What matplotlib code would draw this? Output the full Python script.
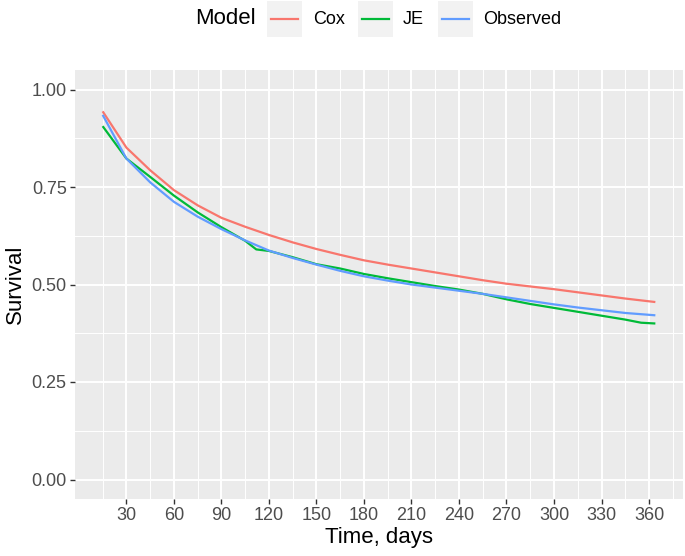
import matplotlib
matplotlib.use("Agg")
import matplotlib.pyplot as plt
from matplotlib.patches import Rectangle
from matplotlib.lines import Line2D
import numpy as np

plt.rcParams['font.family'] = ['Liberation Sans Narrow', 'Liberation Sans', 'DejaVu Sans']

# ---- data ----
days = [15, 30, 45, 60, 75, 90, 105, 120, 135, 150, 165, 180, 195, 210,
        225, 240, 255, 270, 285, 300, 315, 330, 345, 364]
cox = [0.944, 0.851, 0.793, 0.742, 0.703, 0.671, 0.648, 0.627, 0.608, 0.591,
       0.576, 0.562, 0.551, 0.541, 0.531, 0.521, 0.511, 0.502, 0.495, 0.488,
       0.480, 0.472, 0.464, 0.455]
observed = [0.935, 0.823, 0.762, 0.712, 0.674, 0.642, 0.613, 0.587, 0.568,
            0.551, 0.535, 0.521, 0.510, 0.500, 0.492, 0.484, 0.476, 0.467,
            0.458, 0.449, 0.441, 0.434, 0.427, 0.421]
je_days = [15, 30, 45, 60, 75, 90, 105, 112, 120, 135, 150, 165, 180, 195,
           210, 225, 240, 255, 270, 285, 300, 315, 330, 345, 355, 364]
je = [0.906, 0.823, 0.776, 0.728, 0.685, 0.647, 0.612, 0.590, 0.586, 0.570,
      0.552, 0.541, 0.527, 0.516, 0.506, 0.496, 0.487, 0.476, 0.462, 0.450,
      0.440, 0.430, 0.420, 0.410, 0.402, 0.400]

x_ticks = [30, 60, 90, 120, 150, 180, 210, 240, 270, 300, 330, 360]
y_ticks = [0.00, 0.25, 0.50, 0.75, 1.00]
y_tick_labels = ["0.00", "0.25", "0.50", "0.75", "1.00"]
series_names = ["Cox", "JE", "Observed"]
colors = ["#F8766D", "#00BA38", "#619CFF"]

W, H = 685, 556
fig = plt.figure(figsize=(W / 100, H / 100), dpi=100)
fig.patch.set_facecolor("white")

def fx(px):
    return px / W

def fy(py):
    return 1 - py / H

ax = fig.add_axes([fx(75), fy(499), fx(683) - fx(75), fy(70) - fy(499)])
ax.set_facecolor("#EBEBEB")
for s in ax.spines.values():
    s.set_visible(False)

ax.set_xlim(-2.45, 381.45)
ax.set_ylim(-0.05, 1.05)

ax.set_xticks(x_ticks)
ax.set_xticklabels([str(t) for t in x_ticks])
ax.set_xticks([15 + 30 * i for i in range(13)], minor=True)
ax.set_yticks(y_ticks)
ax.set_yticklabels(y_tick_labels)
ax.set_yticks([0.125, 0.375, 0.625, 0.875], minor=True)

ax.grid(which="major", color="white", linewidth=1.4)
ax.grid(which="minor", color="white", linewidth=0.7)
ax.set_axisbelow(True)

ax.tick_params(which="major", length=3.8, width=1.0, color="#333333",
               labelsize=13, labelcolor="#4D4D4D", pad=2.2)
ax.tick_params(which="minor", length=0)

ax.plot(days, cox, color=colors[0], linewidth=1.6, solid_capstyle="butt")
ax.plot(je_days, je, color=colors[1], linewidth=1.6, solid_capstyle="butt")
ax.plot(days, observed, color=colors[2], linewidth=1.6, solid_capstyle="butt")

ax.set_xlabel("Time, days", fontsize=16, color="black", labelpad=2)
ax.set_ylabel("Survival", fontsize=16, color="black", labelpad=4)

# ---- legend (top, horizontal) ----
fig.text(fx(195), fy(19), "Model", fontsize=16, ha="left", va="center")
key_x = [267, 358, 438]
lab_x = [313, 403, 483]
for kx, lx, name, c in zip(key_x, lab_x, series_names, colors):
    fig.patches.append(Rectangle((fx(kx), fy(37)), fx(35), fy(1) - fy(37),
                                 transform=fig.transFigure, facecolor="#F2F2F2",
                                 edgecolor="none"))
    fig.lines.append(Line2D([fx(kx + 4), fx(kx + 31)], [fy(19), fy(19)],
                            transform=fig.transFigure, color=c, linewidth=1.6))
    fig.text(fx(lx), fy(19), name, fontsize=13, ha="left", va="center")

fig.savefig("out.png", dpi=100)
